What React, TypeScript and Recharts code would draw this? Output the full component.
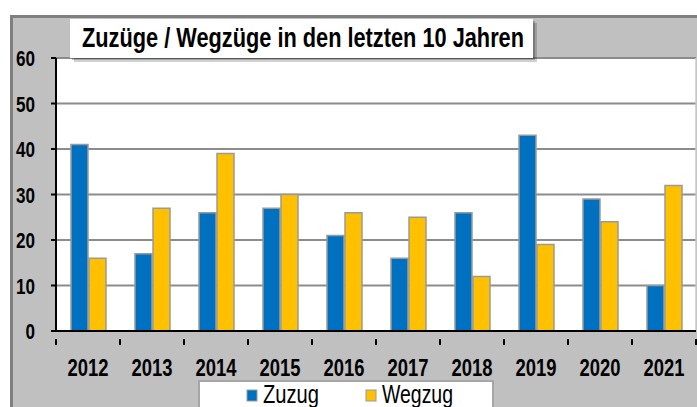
import { BarChart, Bar, XAxis, YAxis, CartesianGrid } from 'recharts';

const YEARS = ['2012', '2013', '2014', '2015', '2016', '2017', '2018', '2019', '2020', '2021'];
const ZUZUG = [41, 17, 26, 27, 21, 16, 26, 43, 29, 10];
const WEGZUG = [16, 27, 39, 30, 26, 25, 12, 19, 24, 32];
const Y_TICKS = [0, 10, 20, 30, 40, 50, 60];
const SERIES = [
  { key: 'zuzug', name: 'Zuzug', color: '#0070C0' },
  { key: 'wegzug', name: 'Wegzug', color: '#FFC000' },
];
const TITLE = 'Zuzüge / Wegzüge in den letzten 10 Jahren';

const data = YEARS.map((year, i) => ({ year, zuzug: ZUZUG[i], wegzug: WEGZUG[i] }));

const FONT = "'Arial Narrow', 'Liberation Sans', Arial, sans-serif";
const HALF_BAND = 32;

const XTick = (props: any) => {
  const { x, y, payload, index } = props;
  return (
    <g>
      <line x1={x - HALF_BAND} x2={x - HALF_BAND} y1={y} y2={y + 6} stroke="#000" strokeWidth={2} />
      {index === YEARS.length - 1 && (
        <line x1={x + HALF_BAND} x2={x + HALF_BAND} y1={y} y2={y + 6} stroke="#000" strokeWidth={2} />
      )}
      <text
        x={x}
        y={y + 37}
        textAnchor="middle"
        fontFamily={FONT}
        fontWeight="bold"
        fontSize={23}
        fill="#000"
        textLength={41}
        lengthAdjust="spacingAndGlyphs"
      >
        {payload.value}
      </text>
    </g>
  );
};

const YTick = (props: any) => {
  const { x, y, payload } = props;
  const label = String(payload.value);
  return (
    <text
      x={x}
      y={y + 8}
      textAnchor="end"
      fontFamily={FONT}
      fontWeight="bold"
      fontSize={22}
      fill="#000"
      textLength={label.length * 9.5}
      lengthAdjust="spacingAndGlyphs"
    >
      {label}
    </text>
  );
};

const App = () => (
  <div style={{ position: 'absolute', left: 0, top: 0, width: 697, height: 407, background: '#fff', overflow: 'hidden' }}>
    <div
      style={{
        position: 'absolute',
        left: 10,
        top: 15,
        width: 700,
        height: 400,
        background: '#c0c0c0',
        borderTop: '3px solid #7f7f7f',
        borderLeft: '3px solid #7f7f7f',
      }}
    />
    <div style={{ position: 'absolute', left: 0, top: 0 }}>
      <BarChart
        width={697}
        height={407}
        data={data}
        barSize={17}
        barGap={1}
        margin={{ top: 58, right: 1, bottom: 36, left: 16 }}
      >
        <CartesianGrid vertical={false} stroke="#8c8c8c" strokeWidth={2} fill="#fff" />
        <XAxis
          dataKey="year"
          height={40}
          axisLine={{ stroke: '#000', strokeWidth: 2 }}
          tickLine={false}
          tick={<XTick />}
          interval={0}
        />
        <YAxis
          width={40}
          domain={[0, 60]}
          ticks={Y_TICKS}
          interval={0}
          axisLine={{ stroke: '#000', strokeWidth: 2 }}
          tickLine={{ stroke: '#000', strokeWidth: 2 }}
          tickSize={5}
          tickMargin={16}
          tick={<YTick />}
        />
        {SERIES.map((s) => (
          <Bar
            key={s.key}
            dataKey={s.key}
            name={s.name}
            fill={s.color}
            stroke="#9a9a9a"
            strokeWidth={1.5}
            isAnimationActive={false}
          />
        ))}
      </BarChart>
    </div>
    <svg width={697} height={407} style={{ position: 'absolute', left: 0, top: 0, pointerEvents: 'none' }}>
      {/* light plot border on the right */}
      <line x1={696} x2={696} y1={58} y2={330} stroke="#c8c8c8" strokeWidth={1.5} />
      {/* title box with shadow */}
      <rect x={74} y={23} width={463} height={39} fill="#000" opacity={0.18} />
      <rect x={72} y={21} width={463} height={39} fill="#000" opacity={0.22} />
      <rect x={70} y={19} width={463} height={39} fill="#fff" />
      <text
        x={82}
        y={47}
        fontFamily={FONT}
        fontWeight="bold"
        fontSize={27}
        fill="#000"
        textLength={442}
        lengthAdjust="spacingAndGlyphs"
      >
        {TITLE}
      </text>
      {/* legend */}
      <rect x={199} y={381} width={294} height={40} fill="#fff" stroke="#a6a6a6" strokeWidth={2} />
      {SERIES.map((s, i) => {
        const sx = i === 0 ? 247 : 366;
        return (
          <g key={s.key}>
            <rect x={sx} y={390} width={10} height={11} fill={s.color} stroke="#9a9a9a" strokeWidth={1} />
            <text
              x={sx + 16}
              y={403}
              fontFamily={FONT}
              fontSize={25}
              fill="#000"
              textLength={i === 0 ? 56 : 71}
              lengthAdjust="spacingAndGlyphs"
            >
              {s.name}
            </text>
          </g>
        );
      })}
    </svg>
  </div>
);

export default App;
